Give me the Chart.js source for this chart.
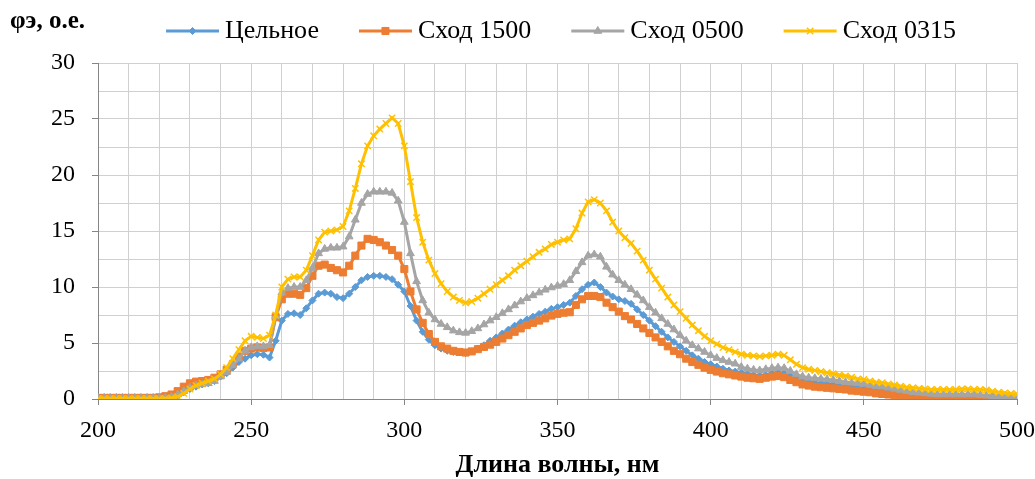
<!DOCTYPE html>
<html>
<head>
    <meta charset="utf-8">
    <title>Спектры φэ</title>
    <script src="https://cdn.jsdelivr.net/npm/chart.js"></script>
    <style>
        body { margin: 0; background: #fff; }
    </style>
</head>
<body>
<canvas id="spectraChart" width="1035" height="479"></canvas>
<script>
// длина волны, нм (шаг 2 нм)
const wavelengths = Array.from({length: 151}, (_, i) => 200 + 2 * i);

const tselnoe = [
    0.1, 0.1, 0.1, 0.1, 0.1,
    0.1, 0.1, 0.1, 0.1, 0.1,
    0.1, 0.1, 0.15, 0.3, 0.6,
    0.9, 1.1, 1.3, 1.4, 1.6,
    2.0, 2.3, 2.8, 3.3, 3.6,
    3.9, 4.0, 3.95, 3.7, 5.2,
    7.0, 7.6, 7.65, 7.5, 8.1,
    8.8, 9.4, 9.5, 9.4, 9.1,
    9.0, 9.4, 10.0, 10.6, 10.9,
    11.0, 11.0, 10.9, 10.7, 10.2,
    9.6, 8.3, 7.0, 6.0, 5.3,
    4.8, 4.5, 4.3, 4.2, 4.15,
    4.1, 4.25, 4.5, 4.8, 5.2,
    5.5, 5.85, 6.2, 6.55, 6.85,
    7.1, 7.35, 7.6, 7.8, 8.05,
    8.2, 8.4, 8.6, 9.2, 9.8,
    10.2, 10.4, 10.0, 9.5, 9.15,
    8.9, 8.75, 8.5, 8.0, 7.5,
    7.0, 6.5, 6.0, 5.5, 5.1,
    4.7, 4.3, 3.9, 3.6, 3.3,
    3.1, 2.9, 2.7, 2.55, 2.45,
    2.35, 2.25, 2.15, 2.1, 2.15,
    2.3, 2.35, 2.3, 2.05, 1.8,
    1.6, 1.5, 1.45, 1.4, 1.35,
    1.3, 1.2, 1.15, 1.1, 1.0,
    0.95, 0.9, 0.8, 0.75, 0.7,
    0.6, 0.55, 0.5, 0.45, 0.4,
    0.35, 0.3, 0.3, 0.3, 0.3,
    0.3, 0.3, 0.3, 0.3, 0.25,
    0.2, 0.2, 0.15, 0.15, 0.1,
    0.1
];

const skhod1500 = [
    0.1, 0.1, 0.1, 0.1, 0.1,
    0.1, 0.1, 0.1, 0.1, 0.1,
    0.15, 0.25, 0.4, 0.7, 1.1,
    1.4, 1.55, 1.6, 1.7, 1.9,
    2.2, 2.6, 3.1, 3.8, 4.3,
    4.5, 4.6, 4.55, 4.6, 7.3,
    8.9, 9.4, 9.4, 9.3, 9.9,
    11.0, 11.9, 12.0, 11.7, 11.5,
    11.3, 11.9, 12.8, 13.7, 14.3,
    14.2, 14.0, 13.7, 13.3, 12.8,
    11.6, 9.6, 8.0, 6.8, 5.8,
    5.1, 4.7, 4.5, 4.3, 4.2,
    4.15, 4.25, 4.45, 4.65, 4.85,
    5.1, 5.4, 5.7, 6.0, 6.3,
    6.6, 6.8, 7.0, 7.2, 7.45,
    7.6, 7.7, 7.75, 8.4, 8.9,
    9.2, 9.2, 9.1, 8.6, 8.2,
    7.8, 7.4, 7.1, 6.7, 6.3,
    5.9, 5.5, 5.1, 4.7, 4.3,
    4.0, 3.6, 3.3, 3.05, 2.8,
    2.6, 2.45, 2.3, 2.2, 2.1,
    2.0, 1.9, 1.85, 1.8, 1.9,
    2.0, 2.05, 1.95, 1.7, 1.5,
    1.3, 1.2, 1.1, 1.05, 1.0,
    0.95, 0.9, 0.85, 0.75, 0.7,
    0.65, 0.6, 0.5, 0.45, 0.4,
    0.35, 0.3, 0.25, 0.2, 0.15,
    0.15, 0.1, 0.1, 0.1, 0.1,
    0.1, 0.1, 0.1, 0.1, 0.1,
    0.1, 0.05, 0.05, 0.05, 0.05,
    0.05
];

const skhod0500 = [
    0.1, 0.1, 0.1, 0.1, 0.1,
    0.1, 0.1, 0.1, 0.1, 0.1,
    0.1, 0.1, 0.2, 0.4, 0.7,
    1.0, 1.2, 1.3, 1.4, 1.6,
    2.0, 2.4, 3.0, 3.6, 4.3,
    4.6, 4.7, 4.7, 4.8, 7.4,
    9.5, 9.9, 10.0, 10.0, 10.6,
    11.7, 13.0, 13.4, 13.5, 13.5,
    13.6, 14.5, 16.0, 17.5, 18.3,
    18.5, 18.5, 18.5, 18.4, 17.7,
    15.8, 13.0, 10.5, 8.8, 7.7,
    7.1, 6.7, 6.4, 6.1, 5.95,
    5.9, 6.05, 6.3, 6.65, 7.0,
    7.3, 7.65, 8.0, 8.35, 8.7,
    9.0, 9.25, 9.5, 9.75, 9.95,
    10.1, 10.25, 10.6, 11.4, 12.2,
    12.8, 12.9, 12.7, 11.8, 11.1,
    10.6, 10.2, 9.8, 9.3, 8.8,
    8.2, 7.7, 7.2, 6.7, 6.2,
    5.7, 5.2, 4.8, 4.5, 4.2,
    3.9, 3.65, 3.45, 3.3, 3.15,
    2.85, 2.7, 2.6, 2.55, 2.65,
    2.75, 2.8, 2.75, 2.5, 2.2,
    2.0, 1.9, 1.85, 1.8, 1.75,
    1.7, 1.6, 1.5, 1.45, 1.4,
    1.35, 1.25, 1.15, 1.1, 1.0,
    0.9, 0.8, 0.7, 0.6, 0.55,
    0.5, 0.45, 0.4, 0.4, 0.4,
    0.4, 0.4, 0.4, 0.4, 0.35,
    0.3, 0.25, 0.2, 0.2, 0.15,
    0.15
];

const skhod0315 = [
    0.05, 0.05, 0.05, 0.05, 0.05,
    0.05, 0.05, 0.05, 0.05, 0.05,
    0.05, 0.05, 0.1, 0.2, 0.5,
    0.9, 1.2, 1.4, 1.6, 1.8,
    2.2, 2.8, 3.6, 4.4, 5.2,
    5.6, 5.5, 5.4, 5.7, 7.5,
    10.0, 10.7, 10.9, 10.9, 11.5,
    12.8, 14.2, 14.9, 15.0, 15.1,
    15.4, 16.8, 18.8, 21.0, 22.6,
    23.5, 24.1, 24.6, 25.1, 24.6,
    22.6, 19.4, 16.2, 14.0, 12.4,
    11.2, 10.3, 9.6, 9.1, 8.8,
    8.6, 8.7, 9.0, 9.4, 9.8,
    10.2, 10.6, 11.0, 11.5, 11.9,
    12.3, 12.7, 13.1, 13.4, 13.8,
    14.0, 14.2, 14.3, 15.2, 16.6,
    17.6, 17.8, 17.5, 16.8, 15.8,
    15.0, 14.4, 13.9, 13.2, 12.4,
    11.5, 10.7, 9.9, 9.1, 8.4,
    7.8, 7.2, 6.6, 6.1, 5.6,
    5.2, 4.9, 4.6, 4.4, 4.2,
    4.0, 3.9, 3.85, 3.8, 3.85,
    3.9, 4.0, 3.9, 3.5, 3.1,
    2.8, 2.65, 2.55, 2.45, 2.35,
    2.25, 2.15, 2.05, 1.95, 1.8,
    1.75, 1.6, 1.5, 1.45, 1.35,
    1.25, 1.15, 1.05, 1.0, 0.95,
    0.9, 0.85, 0.85, 0.85, 0.85,
    0.85, 0.9, 0.9, 0.85, 0.85,
    0.8, 0.7, 0.6, 0.55, 0.5,
    0.45
];

const seriesNames = ['Цельное', 'Сход 1500', 'Сход 0500', 'Сход 0315'];
const xTickLabels = [200, 250, 300, 350, 400, 450, 500];
const yTickLabels = [0, 5, 10, 15, 20, 25, 30];

const serif = '"Liberation Serif", "Times New Roman", serif';
const axisColor = '#868686';
const gridColor = '#d0d0d0';

function points(values) {
    return wavelengths.map((x, i) => ({x: x, y: values[i]}));
}

function series(i, values, color, style, radius, order) {
    return {
        label: seriesNames[i],
        data: points(values),
        borderColor: color,
        backgroundColor: color,
        borderWidth: 3,
        pointStyle: style,
        pointRadius: radius,
        pointBorderWidth: style === 'crossRot' ? 1.5 : 1,
        pointBackgroundColor: color,
        pointBorderColor: color,
        tension: 0,
        order: order
    };
}

// подпись оси Y сверху и легенда "линия + маркер" как в Excel
const topLabels = {
    id: 'topLabels',
    afterDraw(chart) {
        const ctx = chart.ctx;
        ctx.save();
        ctx.fillStyle = '#000';
        ctx.textBaseline = 'middle';
        ctx.textAlign = 'left';
        ctx.font = 'bold 25px ' + serif;
        ctx.fillText('φэ, о.е.', 10, 22);

        ctx.font = '26px ' + serif;
        const lineLen = 53, textGap = 6, itemGap = 40, y = 31;
        const sets = chart.data.datasets;
        const widths = sets.map(ds => lineLen + textGap + ctx.measureText(ds.label).width);
        const total = widths.reduce((a, b) => a + b, 0) + itemGap * (sets.length - 1);
        let x = 561 - total / 2;
        sets.forEach((ds, i) => {
            ctx.strokeStyle = ds.borderColor;
            ctx.lineWidth = 3;
            ctx.beginPath();
            ctx.moveTo(x, y);
            ctx.lineTo(x + lineLen, y);
            ctx.stroke();
            ctx.fillStyle = ds.pointBackgroundColor;
            ctx.lineWidth = ds.pointBorderWidth;
            Chart.helpers.drawPoint(ctx, {pointStyle: ds.pointStyle, radius: ds.pointRadius, rotation: 0, borderWidth: ds.pointBorderWidth}, x + lineLen / 2, y);
            ctx.fillStyle = '#000';
            ctx.fillText(ds.label, x + lineLen + textGap, y);
            x += widths[i] + itemGap;
        });
        ctx.restore();
    }
};

const ctx = document.getElementById('spectraChart').getContext('2d');
const spectraChart = new Chart(ctx, {
    type: 'line',
    data: {
        datasets: [
            series(0, tselnoe, '#5B9BD5', 'rectRot', 3.5, 4),
            series(1, skhod1500, '#ED7D31', 'rect', 5, 3),
            series(2, skhod0500, '#A5A5A5', 'triangle', 4.5, 2),
            series(3, skhod0315, '#FFC000', 'crossRot', 4.5, 1)
        ]
    },
    options: {
        responsive: false,
        animation: false,
        layout: { padding: { top: 63, right: 18, bottom: 0, left: 0 } },
        plugins: {
            legend: { display: false },
            tooltip: { enabled: false }
        },
        scales: {
            x: {
                type: 'linear',
                min: 200,
                max: 500,
                afterFit(scale) {
                    scale.height = 80;
                    scale.paddingLeft = 0;
                    scale.paddingRight = 0;
                },
                grid: {
                    color: gridColor,
                    tickLength: 6,
                    tickColor: c => xTickLabels.includes(c.tick.value) ? axisColor : 'rgba(0,0,0,0)'
                },
                border: { color: axisColor, width: 1 },
                ticks: {
                    stepSize: 10,
                    autoSkip: false,
                    maxRotation: 0,
                    padding: 11,
                    color: '#000',
                    font: { family: serif, size: 24 },
                    callback: v => xTickLabels.includes(v) ? String(v) : ''
                },
                title: {
                    display: true,
                    text: 'Длина волны, нм',
                    color: '#000',
                    font: { family: serif, size: 26, weight: 'bold' },
                    padding: { top: 0, bottom: -2 }
                }
            },
            y: {
                min: 0,
                max: 30,
                afterFit(scale) { scale.width = 98; },
                grid: {
                    color: gridColor,
                    tickLength: 6,
                    tickColor: c => yTickLabels.includes(c.tick.value) ? axisColor : 'rgba(0,0,0,0)'
                },
                border: { color: axisColor, width: 1 },
                ticks: {
                    stepSize: 2.5,
                    autoSkip: false,
                    padding: 17,
                    color: '#000',
                    font: { family: serif, size: 24 },
                    callback: v => yTickLabels.includes(v) ? String(v) : ''
                }
            }
        }
    },
    plugins: [topLabels]
});
</script>
</body>
</html>
